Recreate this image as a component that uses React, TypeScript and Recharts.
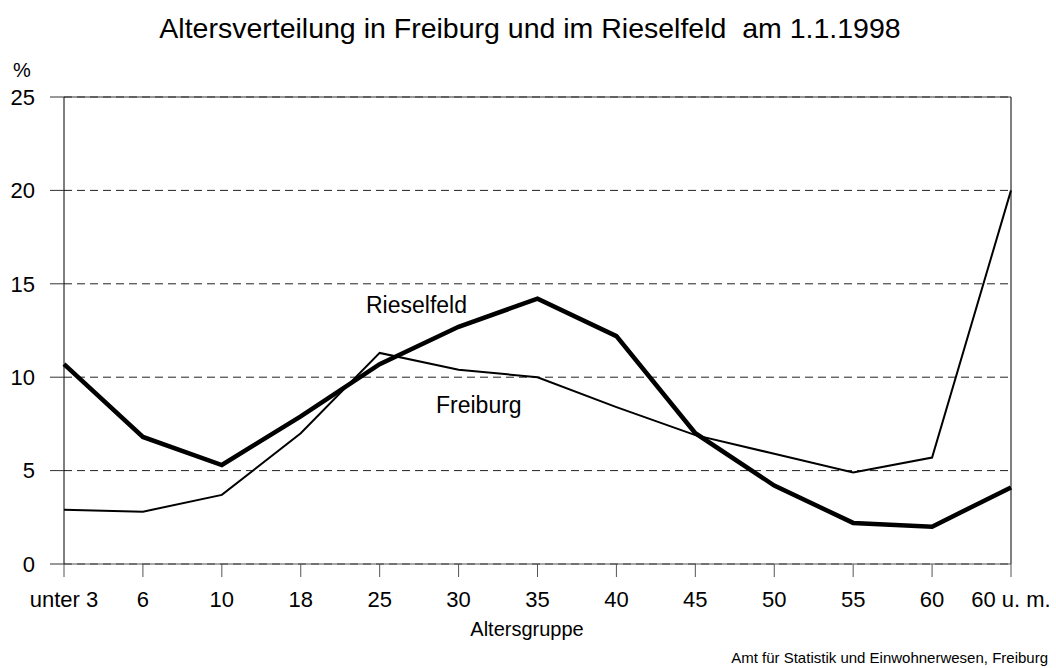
import React from 'react';
import { LineChart, Line, XAxis, YAxis, CartesianGrid, ReferenceLine } from 'recharts';

const categories = ['unter 3', '6', '10', '18', '25', '30', '35', '40', '45', '50', '55', '60', '60 u. m.'];
const rieselfeld = [10.7, 6.8, 5.3, 7.9, 10.7, 12.7, 14.2, 12.2, 7.0, 4.2, 2.2, 2.0, 4.1];
const freiburg = [2.9, 2.8, 3.7, 7.0, 11.3, 10.4, 10.0, 8.4, 6.9, 5.9, 4.9, 5.7, 20.0];
const yTicks = [0, 5, 10, 15, 20, 25];

const data = categories.map((c, i) => ({ cat: c, rieselfeld: rieselfeld[i], freiburg: freiburg[i] }));

const FONT = '"Liberation Sans", Arial, sans-serif';

export default function App() {
  return (
    <div style={{ position: 'absolute', left: 0, top: 0, width: 1056, height: 668, background: '#fff', fontFamily: FONT }}>
      <LineChart width={1056} height={668} data={data} margin={{ top: 97, right: 45, bottom: 0, left: 0 }}>
        <CartesianGrid vertical={false} stroke="#222" strokeDasharray="8 5" />
        <XAxis
          dataKey="cat"
          height={104}
          tickSize={13}
          tickMargin={14}
          stroke="#555"
          tickLine={{ stroke: '#555' }}
          tick={{ fill: '#000', fontSize: 22, fontFamily: FONT }}
          interval={0}
        />
        <YAxis
          width={64}
          domain={[0, 25]}
          ticks={yTicks}
          tickSize={14}
          tickMargin={15}
          stroke="#000"
          tickLine={{ stroke: '#333' }}
          tick={{ fill: '#000', fontSize: 22, fontFamily: FONT }}
        />
        <ReferenceLine y={25} stroke="#333" strokeWidth={1} />
        <ReferenceLine x="60 u. m." stroke="#000" strokeWidth={1} />
        <Line dataKey="freiburg" stroke="#000" strokeWidth={2} dot={false} isAnimationActive={false} strokeLinejoin="miter" />
        <Line dataKey="rieselfeld" stroke="#000" strokeWidth={4.5} dot={false} isAnimationActive={false} strokeLinejoin="miter" />
      </LineChart>
      <svg width={1056} height={668} style={{ position: 'absolute', left: 0, top: 0, pointerEvents: 'none' }}>
        <text x={530} y={38} textAnchor="middle" fontSize={28.5} fontFamily={FONT} fill="#000" style={{ whiteSpace: 'pre' }}>
          {'Altersverteilung in Freiburg und im Rieselfeld  am 1.1.1998'}
        </text>
        <text x={22} y={77} textAnchor="middle" fontSize={20} fontFamily={FONT} fill="#000">%</text>
        <text x={366} y={313} fontSize={23} fontFamily={FONT} fill="#000">Rieselfeld</text>
        <text x={436} y={413} fontSize={23} fontFamily={FONT} fill="#000">Freiburg</text>
        <text x={527} y={636} textAnchor="middle" fontSize={20} fontFamily={FONT} fill="#000">Altersgruppe</text>
        <text x={1048} y={663} textAnchor="end" fontSize={15} fontFamily={FONT} fill="#000">Amt für Statistik und Einwohnerwesen, Freiburg</text>
      </svg>
    </div>
  );
}
